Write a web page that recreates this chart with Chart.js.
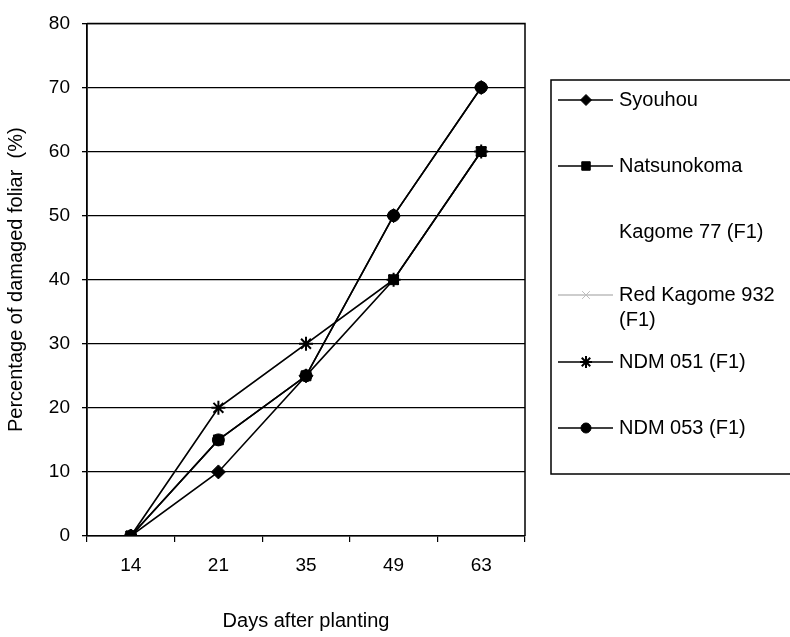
<!DOCTYPE html>
<html>
<head>
<meta charset="utf-8">
<script src="https://cdn.jsdelivr.net/npm/chart.js@4/dist/chart.umd.min.js"></script>
<style>
html,body{margin:0;padding:0;background:#fff;}
#wrap{position:relative;width:790px;height:637px;}
</style>
</head>
<body>
<div id="wrap"><canvas id="c" width="790" height="637"></canvas></div>
<script>
const categories = ['14', '21', '35', '49', '63'];
const syouhou = [0, 10, 25, 50, 70];
const natsunokoma = [0, 15, 25, 40, 60];
const kagome77 = [0, 15, 25, 40, 60];
const redKagome932 = [0, 20, 30, 40, 60];
const ndm051 = [0, 20, 30, 40, 60];
const ndm053 = [0, 15, 25, 50, 70];
const seriesNames = ['Syouhou', 'Natsunokoma', 'Kagome 77 (F1)', 'Red Kagome 932 (F1)', 'NDM 051 (F1)', 'NDM 053 (F1)'];
const legendLines = [['Syouhou'], ['Natsunokoma'], ['Kagome 77 (F1)'], ['Red Kagome 932', '(F1)'], ['NDM 051 (F1)'], ['NDM 053 (F1)']];
const yTicks = [0, 10, 20, 30, 40, 50, 60, 70, 80];
const xTitle = 'Days after planting';
const yTitle = 'Percentage of damaged foliar  (%)';

const FONT = 'Liberation Sans, Arial, sans-serif';

function ds(label, data, color, style, radius, bw, order, legendRadius) {
  return {
    label: label, data: data, order: order,
    borderColor: color, backgroundColor: color,
    pointBackgroundColor: color, pointBorderColor: color,
    pointStyle: style, pointRadius: radius, pointBorderWidth: bw,
    legendRadius: legendRadius,
    borderWidth: 1.6, tension: 0, fill: false
  };
}

const datasets = [
  ds(seriesNames[0], syouhou, '#000', 'rectRot', 7, 1, 4, 5.5),
  ds(seriesNames[1], natsunokoma, '#000', 'rect', 7, 1, 3, 6),
  ds(seriesNames[2], kagome77, 'rgba(0,0,0,0)', 'circle', 0, 0, 5, 0),
  ds(seriesNames[3], redKagome932, '#bdbdbd', 'crossRot', 6, 1, 6, 5.5),
  ds(seriesNames[4], ndm051, '#000', 'star', 7, 2, 1, 6),
  ds(seriesNames[5], ndm053, '#000', 'circle', 6, 1, 2, 5)
];

const legendPos = [100, 166, 232, 295, 362, 428];

const framePlugin = {
  id: 'frame',
  afterDatasetsDraw(chart) {
    const ctx = chart.ctx, a = chart.chartArea;
    ctx.save();
    ctx.strokeStyle = '#000';
    ctx.lineWidth = 1.5;
    ctx.beginPath();
    ctx.moveTo(a.left, a.top);
    ctx.lineTo(a.right, a.top);
    ctx.lineTo(a.right, a.bottom);
    ctx.stroke();
    ctx.restore();
  },
  afterDraw(chart) {
    const ctx = chart.ctx;
    ctx.save();
    ctx.strokeStyle = '#000';
    ctx.lineWidth = 1.5;
    ctx.strokeRect(551, 80, 260, 394);
    ctx.font = '20px ' + FONT;
    ctx.textBaseline = 'middle';
    ctx.textAlign = 'left';
    chart.data.datasets.forEach((d, i) => {
      const y = legendPos[i];
      ctx.strokeStyle = d.borderColor;
      ctx.lineWidth = d.borderWidth;
      ctx.beginPath();
      ctx.moveTo(558, y);
      ctx.lineTo(613, y);
      ctx.stroke();
      if (d.legendRadius > 0) {
        ctx.fillStyle = d.pointBackgroundColor;
        ctx.strokeStyle = d.pointBorderColor;
        ctx.lineWidth = d.pointBorderWidth;
        Chart.helpers.drawPoint(ctx, {
          pointStyle: d.pointStyle, radius: d.legendRadius, borderWidth: d.pointBorderWidth, rotation: 0
        }, 586, y);
      }
      ctx.fillStyle = '#000';
      legendLines[i].forEach((t, k) => ctx.fillText(t, 619, y + k * 25));
    });
    ctx.restore();
  }
};

new Chart(document.getElementById('c'), {
  type: 'line',
  data: { labels: categories, datasets: datasets },
  plugins: [framePlugin],
  options: {
    responsive: false,
    animation: false,
    layout: { padding: { left: 0, right: 265, top: 17, bottom: 0 } },
    plugins: { legend: { display: false }, tooltip: { enabled: false } },
    scales: {
      x: {
        type: 'category',
        offset: true,
        grid: { display: true, drawOnChartArea: false, drawTicks: true, tickLength: 6, color: '#000', lineWidth: 1.2, offset: true },
        border: { display: true, color: '#000', width: 1.5 },
        ticks: { color: '#000', font: { size: 19, family: FONT }, padding: 12, maxRotation: 0 },
        title: { display: true, text: xTitle, color: '#000', font: { size: 20, family: FONT }, padding: { top: 24 } },
        afterFit(s) { s.height = 101; }
      },
      y: {
        min: 0, max: 80,
        afterBuildTicks(s) { s.ticks = yTicks.map(v => ({ value: v })); },
        grid: { display: true, color: '#000', lineWidth: 1.3, drawTicks: true, tickLength: 5 },
        border: { display: true, color: '#000', width: 1.8 },
        ticks: { color: '#000', font: { size: 19, family: FONT }, padding: 12 },
        title: { display: true, text: yTitle, color: '#000', font: { size: 20, family: FONT }, padding: { bottom: 4 } },
        afterFit(s) { s.width = 87; }
      }
    }
  }
});
</script>
</body>
</html>
